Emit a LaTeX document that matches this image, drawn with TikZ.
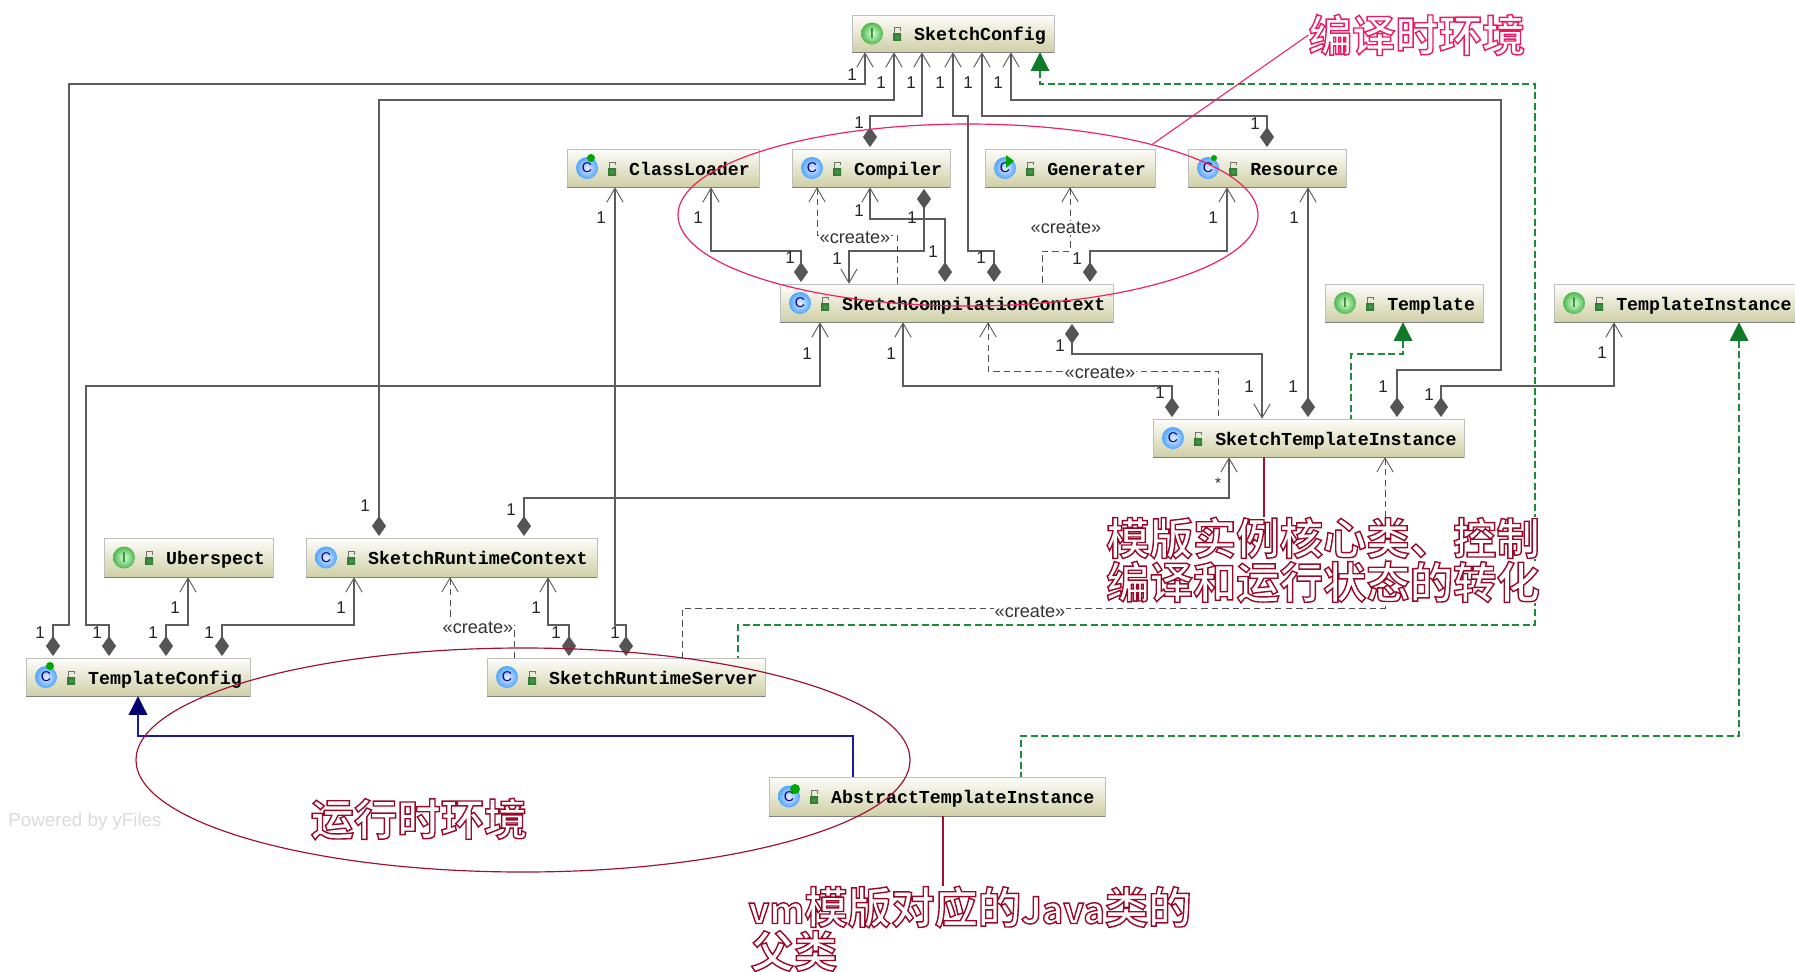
\documentclass[tikz,border=0pt]{standalone}
\usepackage{fontspec}
\usetikzlibrary{arrows.meta,shapes.geometric}
\setmainfont{Liberation Sans}
\newfontfamily\umlmono{Liberation Mono}
\newfontfamily\cjkf{Noto Sans CJK SC Bold}
\definecolor{lncol}{HTML}{5C5C5C}
\definecolor{depcol}{HTML}{505050}
\definecolor{diacol}{HTML}{555555}
\definecolor{gdash}{HTML}{1E8A3A}
\definecolor{gtri}{HTML}{0E7A2A}
\definecolor{bluel}{HTML}{1A1AA0}
\definecolor{bluet}{HTML}{000070}
\definecolor{pinkr}{HTML}{F0205F}
\definecolor{darkr}{HTML}{A01030}
\definecolor{tanb}{HTML}{CFCFA6}
\newcommand\outlpink[1]{\special{pdf:code 1 Tr 1.2 w 0.94 0.1 0.38 RG}#1\special{pdf:code 0 Tr}}
\newcommand\outlred[1]{\special{pdf:code 1 Tr 1.2 w 0.6 0.03 0.16 RG}#1\special{pdf:code 0 Tr}}
\newcommand\latn[1]{{\fontsize{31}{40}\selectfont #1}}
\tikzset{
  assoc/.style={draw=lncol,line width=0.95pt,line join=miter},
  opndia/.style={arrows={Straight Barb[length=12pt,width=14pt,line width=0.8pt]-Diamond[length=17pt,width=12pt,color=diacol,fill=diacol]},shorten >=1.5pt},
  dep/.style={draw=depcol,line width=0.8pt,dash pattern=on 5.5pt off 3.5pt,arrows={Straight Barb[length=12pt,width=14pt,line width=0.7pt]-}},
  realize/.style={draw=gdash,line width=0.9pt,dash pattern=on 6pt off 3pt,arrows={Triangle[length=16pt,width=16pt,color=gtri,fill=gtri]-}},
  inherit/.style={draw=bluel,line width=1.1pt,arrows={Triangle[length=16pt,width=16pt,color=bluet,fill=bluet]-}},
  mult/.style={font=\fontsize{14.5}{16}\selectfont,text=black!85,inner sep=0pt},
  crt/.style={font=\fontsize{15.5}{17}\selectfont,text=black!80,fill=white,inner sep=0.5pt},
  big/.style={font=\cjkf\fontsize{37}{40}\selectfont,inner sep=0pt,fill=white,anchor=center},
  iconI/.style={inner color=green!15!white,outer color=green!60!black!70},
  iconC/.style={inner color=blue!8!white,outer color=blue!50!cyan!70},
  ictxt/.style={font=\fontsize{12}{13}\selectfont,inner sep=0pt},
}
% #1 name, #2 x1, #3 y1, #4 x2, #5 y2, #6 icon kind, #7 letter, #8 text
\newcommand\classbox[8]{%
  \pgfmathsetmacro\bw{(#4-#2)*0.03}%
  \pgfmathsetmacro\bh{(#5-#3)*0.03}%
  \pgfmathsetmacro\cy{(#3+#5)/2}%
  \node[draw=black!25,inner sep=0pt,minimum height=\bh cm,
        top color=white!96!tanb,bottom color=tanb,
        font=\umlmono\bfseries\fontsize{15.6}{17}\selectfont,anchor=west] (#1) at (#2,\cy)
        {\makebox[\bw cm][l]{\hspace*{1.86cm}\raisebox{-2.6pt}[\ht\strutbox][\dp\strutbox]{#8}}};
  \draw[black!50,line width=1.1pt] (#1.south west) -- (#1.south east);
  \shade[#6] ({#2+20},\cy) circle[radius=11];
  \node[ictxt,text=#6text] (#1-ic) at ({#2+20},\cy) {#7};
  \shade[inner color=green!45!black!70,outer color=green!35!black!80] ({#2+41},{\cy}) rectangle ({#2+49},{\cy+7});
  \draw[black!55,line width=0.6pt] ({#2+42},{\cy}) -- ({#2+42},{\cy-6}) -- ({#2+48},{\cy-6}) -- ({#2+48},{\cy-3});
}
\colorlet{iconItext}{green!40!black}
\colorlet{iconCtext}{blue!50!black}
\begin{document}
\begin{tikzpicture}[x=0.03cm,y=-0.03cm]
\useasboundingbox[fill=white] (0,0) rectangle (1795,971);

% class boxes
\classbox{cfg}{852}{15}{1054}{52}{iconI}{I}{SketchConfig}
\classbox{cl}{567}{149}{759}{187}{iconC}{C}{ClassLoader}
\classbox{cmp}{792}{149}{950}{187}{iconC}{C}{Compiler}
\classbox{gen}{985}{149}{1155}{187}{iconC}{C}{Generater}
\classbox{res}{1188}{149}{1346}{187}{iconC}{C}{Resource}
\classbox{scc}{780}{284}{1113}{322}{iconC}{C}{SketchCompilationContext}
\classbox{tpl}{1325}{284}{1483}{322}{iconI}{I}{Template}
\classbox{tin}{1554}{284}{1795}{322}{iconI}{I}{TemplateInstance}
\classbox{sti}{1153}{419}{1464}{457}{iconC}{C}{SketchTemplateInstance}
\classbox{ub}{104}{538}{273}{577}{iconI}{I}{Uberspect}
\classbox{src}{306}{538}{597}{577}{iconC}{C}{SketchRuntimeContext}
\classbox{tc}{26}{658}{250}{696}{iconC}{C}{TemplateConfig}
\classbox{srs}{487}{658}{765}{696}{iconC}{C}{SketchRuntimeServer}
\classbox{ati}{769}{777}{1105}{816}{iconC}{C}{AbstractTemplateInstance}
% green marks on abstract / active class icons
\fill[green!65!black] (591,158) circle[radius=4] (1006,155) -- (1014,161) -- (1006,168) -- cycle (1214,158) circle[radius=3] (50,666) circle[radius=4] (795,789) circle[radius=5];

% associations
\draw[assoc,opndia] (865,0 |- cfg.south) -- (865,84) -- (69,84) -- (69,625) -- (53,625) -- (53,0 |- tc.north);
\draw[assoc,opndia] (894,0 |- cfg.south) -- (894,100) -- (379,100) -- (379,0 |- src.north);
\draw[assoc,opndia] (922,0 |- cfg.south) -- (922,116) -- (870,116) -- (870,0 |- cmp.north);
\draw[assoc,opndia] (953,0 |- cfg.south) -- (953,116) -- (968,116) -- (968,251) -- (994,251) -- (994,0 |- scc.north);
\draw[assoc,opndia] (982,0 |- cfg.south) -- (982,116) -- (1267,116) -- (1267,0 |- res.north);
\draw[assoc,opndia] (1011,0 |- cfg.south) -- (1011,100) -- (1501,100) -- (1501,370) -- (1397,370) -- (1397,0 |- sti.north);
\draw[assoc,opndia] (615,0 |- cl.south) -- (615,625) -- (626,625) -- (626,0 |- srs.north);
\draw[assoc,opndia] (711,0 |- cl.south) -- (711,251) -- (801,251) -- (801,0 |- scc.north);
\draw[assoc,opndia] (870,0 |- cmp.south) -- (870,219) -- (945,219) -- (945,0 |- scc.north);
\draw[assoc,opndia] (849,0 |- scc.north) -- (849,251) -- (924,251) -- (924,0 |- cmp.south);
\draw[assoc,opndia] (1227,0 |- res.south) -- (1227,251) -- (1090,251) -- (1090,0 |- scc.north);
\draw[assoc,opndia] (1308,0 |- res.south) -- (1308,0 |- sti.north);
\draw[assoc,opndia] (820,0 |- scc.south) -- (820,386) -- (86,386) -- (86,625) -- (109,625) -- (109,0 |- tc.north);
\draw[assoc,opndia] (903,0 |- scc.south) -- (903,386) -- (1172,386) -- (1172,0 |- sti.north);
\draw[assoc,opndia] (1262,0 |- sti.north) -- (1262,354) -- (1072,354) -- (1072,0 |- scc.south);
\draw[assoc,opndia] (1614,0 |- tin.south) -- (1614,386) -- (1441,386) -- (1441,0 |- sti.north);
\draw[assoc,opndia] (1229,0 |- sti.south) -- (1229,498) -- (524,498) -- (524,0 |- src.north);
\draw[assoc,opndia] (188,0 |- ub.south) -- (188,625) -- (166,625) -- (166,0 |- tc.north);
\draw[assoc,opndia] (354,0 |- src.south) -- (354,625) -- (222,625) -- (222,0 |- tc.north);
\draw[assoc,opndia] (548,0 |- src.south) -- (548,625) -- (569,625) -- (569,0 |- srs.north);

% create dependencies
\draw[dep] (817,0 |- cmp.south) -- (817,235) -- (897,235) -- (897,0 |- scc.north);
\draw[dep] (1070,0 |- gen.south) -- (1070,251) -- (1042,251) -- (1042,0 |- scc.north);
\draw[dep] (988,0 |- scc.south) -- (988,371) -- (1218,371) -- (1218,0 |- sti.north);
\draw[dep] (1385,0 |- sti.south) -- (1385,608) -- (682,608) -- (682,0 |- srs.north);
\draw[dep] (450,0 |- src.south) -- (450,625) -- (514,625) -- (514,0 |- srs.north);

% realizations and inheritance
\draw[realize] (1040,0 |- cfg.south) -- (1040,84) -- (1535,84) -- (1535,625) -- (738,625) -- (738,0 |- srs.north);
\draw[realize] (1403,0 |- tpl.south) -- (1403,354) -- (1351,354) -- (1351,0 |- sti.north);
\draw[realize] (1739,0 |- tin.south) -- (1739,736) -- (1021,736) -- (1021,0 |- ati.north);
\draw[inherit] (138,0 |- tc.south) -- (138,736) -- (853,736) -- (853,0 |- ati.north);

% multiplicities
\foreach \x/\y [count=\i] in {852/75,881/83,911/83,940/83,968/83,998/83,859/123,1255/124,
  601/218,698/218,790/258,859/211,912/218,933/252,837/259,981/258,1213/218,1077/259,1294/218,
  1293/387,1383/387,1060/346,1249/387,1160/393,1429/395,1602/353,807/354,891/354,
  365/506,511/510,175/608,341/608,536/608,40/633,97/633,153/633,209/633,556/633,615/633}
  \node[mult] (m\i) at (\x,\y) {1};
\node[mult,font=\fontsize{13}{14}\selectfont] (mstar) at (1218,483) {*};

% stereotype labels
\node[crt] (c1) at (855,238) {«create»};
\node[crt] (c2) at (1066,228) {«create»};
\node[crt] (c3) at (1100,373) {«create»};
\node[crt] (c4) at (1030,612) {«create»};
\node[crt] (c5) at (478,628) {«create»};

% watermark
\node[font=\fontsize{16}{18}\selectfont,text=black!14,inner sep=0pt] (wm) at (85,822) {Powered by yFiles};

% ellipses
\node[draw=pinkr,line width=1pt,ellipse,inner sep=0pt,minimum width=17.4cm,minimum height=5.46cm] (e1) at (968,215) {};
\node[draw=darkr,line width=1pt,ellipse,inner sep=0pt,minimum width=23.22cm,minimum height=6.72cm] (e2) at (523,760) {};

% notes
\node[big] (t1) at (1417,35) {\outlpink{编译时环境}};
\node[big] (t2) at (1323,538) {\outlred{模版实例核心类、控制}};
\node[big] (t3) at (1323,582) {\outlred{编译和运行状态的转化}};
\node[big] (t4) at (419,819) {\outlred{运行时环境}};
\node[big] (t5) at (970,907) {\outlred{\latn{vm}模版对应的\latn{Java}类的}};
\node[big] (t6) at (794,951) {\outlred{父类}};
\draw[pinkr,line width=0.9pt] (e1.21) -- (t1.west);
\draw[darkr,line width=1.1pt] (1264,0 |- sti.south) -- (1264,0 |- t2.north);
\draw[darkr,line width=1.1pt] (943,0 |- ati.south) -- (943,0 |- t5.north);
\end{tikzpicture}
\end{document}
